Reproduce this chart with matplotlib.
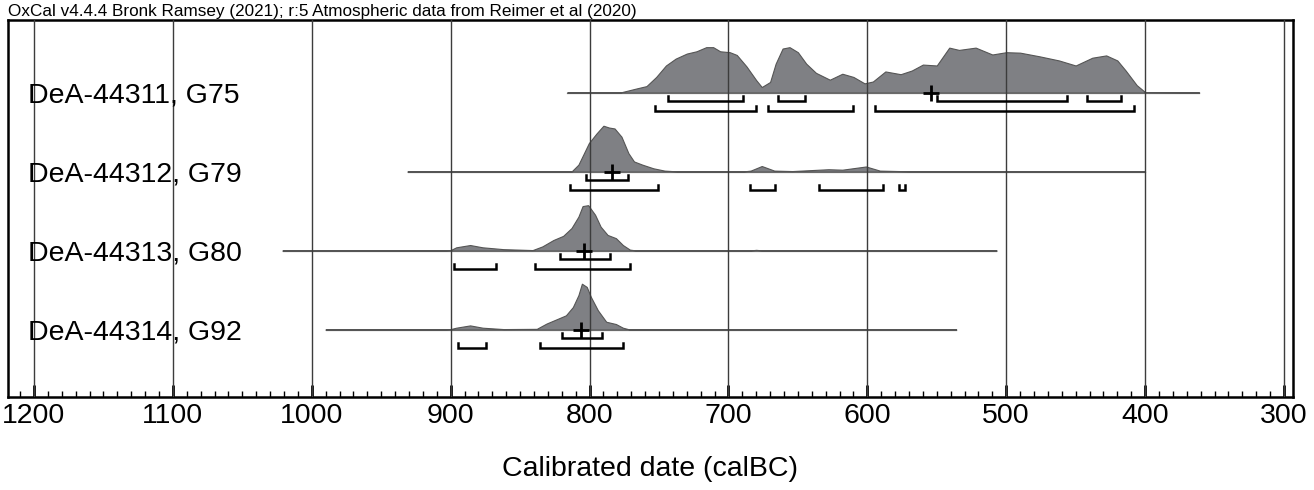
import numpy as np
import matplotlib.pyplot as plt
from matplotlib.ticker import MultipleLocator

plt.rcParams['font.family'] = ['Liberation Sans', 'DejaVu Sans']

title = 'OxCal v4.4.4 Bronk Ramsey (2021); r:5 Atmospheric data from Reimer et al (2020)'
labels = ['DeA-44311, G75', 'DeA-44312, G79', 'DeA-44313, G80', 'DeA-44314, G92']
tick_years = [1200, 1100, 1000, 900, 800, 700, 600, 500, 400, 300]

# extent of the thin base line for each sample (calBC)
line_spans = [(816, 361), (931, 400), (1021, 507), (990, 536)]

# probability curves, relative to each peak
dates_1 = [816, 778, 774, 766, 759, 752, 745, 738, 730, 723, 716, 711, 706, 699, 694, 687,
           680, 676, 670, 666, 661, 656, 650, 644, 637, 627, 618, 610, 602, 596, 587, 576,
           568, 560, 550, 541, 534, 522, 510, 500, 490, 476, 462, 450, 438, 428, 420, 414,
           406, 400, 361]
dens_1 = [0, 0, 0.03, 0.09, 0.14, 0.34, 0.59, 0.74, 0.85, 0.90, 0.99, 0.99, 0.90, 0.88, 0.82, 0.57,
          0.27, 0.12, 0.23, 0.63, 0.96, 0.99, 0.88, 0.63, 0.43, 0.28, 0.41, 0.34, 0.20, 0.24, 0.46, 0.40,
          0.48, 0.61, 0.59, 0.98, 0.93, 0.98, 0.83, 0.88, 0.87, 0.79, 0.70, 0.59, 0.76, 0.81, 0.70, 0.48,
          0.16, 0.01, 0]

dates_2 = [931, 813, 808, 804, 800.5, 795, 790, 786, 782, 777, 772, 768, 762, 754, 746, 735,
           690, 684, 676, 667, 654, 628, 618, 601, 591, 577, 570, 400]
dens_2 = [0, 0, 0.15, 0.40, 0.62, 0.83, 1.0, 0.96, 0.94, 0.76, 0.40, 0.22, 0.15, 0.07, 0.02, 0,
          0, 0.02, 0.12, 0.02, 0.01, 0.05, 0.04, 0.11, 0.02, 0.01, 0.005, 0]

dates_3 = [1021, 905, 900, 896, 886, 877, 862, 841, 834, 826, 819, 813, 808, 805, 801, 796,
           792, 787, 781, 776, 771, 766, 685, 680, 675, 507]
dens_3 = [0, 0, 0.01, 0.07, 0.12, 0.07, 0.03, 0.01, 0.09, 0.23, 0.32, 0.49, 0.74, 0.97, 0.99, 0.78,
          0.52, 0.34, 0.27, 0.12, 0.02, 0, 0, 0.015, 0, 0]

dates_4 = [990, 905, 900, 896, 886, 877, 862, 838, 831, 824, 817, 812, 808, 805.5, 802, 799,
           794, 788, 781, 776, 771, 536]
dens_4 = [0, 0, 0.01, 0.04, 0.09, 0.04, 0.01, 0.015, 0.13, 0.22, 0.31, 0.49, 0.75, 1.0, 0.93, 0.71,
          0.42, 0.17, 0.12, 0.04, 0, 0]

# 68.2% and 95.4% ranges (calBC), and the median
ranges_68 = [[(743.6, 689.6), (664.4, 645.2), (549.7, 456.1), (442.1, 417.6)],
             [(802.6, 772.2)],
             [(821.1, 785.6)],
             [(819.7, 791.1)]]
ranges_95 = [[(752.8, 680), (671.5, 610.3), (594.1, 408)],
             [(813.9, 750.4), (684.8, 666.3), (634.7, 588.4), (577.4, 573.2)],
             [(897.6, 867.6), (839.6, 770.7)],
             [(894.8, 874.6), (835.5, 776)]]
medians = [554, 784, 804, 806]

all_dates = [dates_1, dates_2, dates_3, dates_4]
all_dens = [dens_1, dens_2, dens_3, dens_4]

fig = plt.figure(figsize=(13.14, 4.9), dpi=100)
ax = fig.add_axes([8 / 1314, 1 - 397 / 490, 1285 / 1314, 377 / 490])

peak = 0.58      # height of the tallest point, in row units
off68, off95, tick = 0.108, 0.228, 0.06


def bracket(a, b, y):
    ax.plot([a, a, b, b], [y - tick, y, y, y - tick], color='black', lw=1.8,
            solid_joinstyle='miter', zorder=5)


for i in range(4):
    ax.plot(line_spans[i], [i, i], color='#8a8a8a', lw=0.9, zorder=2)
    d = np.array(all_dens[i])
    ax.fill_between(all_dates[i], i, i - d * peak, facecolor='#7f8084',
                    edgecolor='#555555', lw=0.8, zorder=3)
    for a, b in ranges_68[i]:
        bracket(a, b, i + off68)
    for a, b in ranges_95[i]:
        bracket(a, b, i + off95)
    ax.plot(medians[i], i, marker='+', ms=11, mew=2, color='black', zorder=6)
    ax.text(1204.3, i + 0.13, labels[i], fontsize=20.5, ha='left', va='baseline', zorder=7)

for yr in tick_years:
    ax.axvline(yr, color='#3c3c3c', lw=1.0, zorder=4)

ax.set_xlim(1218.7, 293.5)
ax.set_ylim(3.854, -0.918)
ax.set_xticks(tick_years)
ax.set_xticklabels([str(t) for t in tick_years])
ax.xaxis.set_minor_locator(MultipleLocator(10))
ax.tick_params(axis='x', which='major', direction='in', length=9, width=2,
               labelsize=20.5, pad=4)
ax.tick_params(axis='x', which='minor', direction='in', length=4.5, width=1)
ax.set_yticks([])
for s in ax.spines.values():
    s.set_linewidth(1.8)

ax.set_xlabel('Calibrated date (calBC)', fontsize=20.5, labelpad=20)
fig.text(8 / 1314, 1 - 16 / 490, title, fontsize=12.3, ha='left', va='baseline')

fig.savefig('out.png', dpi=100)
